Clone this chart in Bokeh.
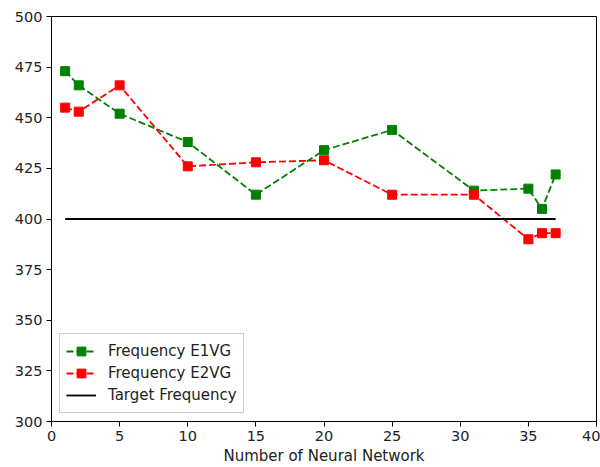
from bokeh.plotting import figure
from bokeh.models import Range1d, Legend, LegendItem, FixedTicker
from bokeh.embed import file_html
from bokeh.resources import INLINE

networks = [1, 2, 5, 10, 15, 20, 25, 31, 35, 36, 37]
freq_e1vg = [473, 466, 452, 438, 412, 434, 444, 414, 415, 405, 422]
freq_e2vg = [455, 453, 466, 426, 428, 429, 412, 412, 390, 393, 393]
target_x = [1, 37]
target_y = [400, 400]
x_ticks = [0, 5, 10, 15, 20, 25, 30, 35, 40]
y_ticks = [300, 325, 350, 375, 400, 425, 450, 475, 500]

p = figure(output_backend="svg", toolbar_location=None,
           frame_width=545, frame_height=405,
           min_border_left=51, min_border_right=4, min_border_top=16, min_border_bottom=46,
           x_range=Range1d(0, 40), y_range=Range1d(300, 500))
p.xgrid.visible = False
p.ygrid.visible = False
p.outline_line_color = "black"
p.outline_line_width = 1
p.outline_line_alpha = 1

for ax in (p.xaxis[0], p.yaxis[0]):
    ax.major_label_text_font = "DejaVu Sans"
    ax.major_label_text_font_size = "14.5px"
    ax.major_label_text_color = "#222222"
    ax.major_tick_out = 5
    ax.major_tick_in = 0
    ax.minor_tick_out = 0
    ax.minor_tick_in = 0
    ax.axis_line_color = "black"
    ax.major_tick_line_color = "black"
    ax.major_label_standoff = 4
p.xaxis.ticker = FixedTicker(ticks=x_ticks)
p.yaxis.ticker = FixedTicker(ticks=y_ticks)
p.xaxis.axis_label = "Number of Neural Network"
p.xaxis.axis_label_text_font = "DejaVu Sans"
p.xaxis.axis_label_text_font_size = "15px"
p.xaxis.axis_label_text_color = "#222222"
p.xaxis.axis_label_text_font_style = "normal"
p.xaxis.axis_label_standoff = 3

g_line = p.line(networks, freq_e1vg, color="green", line_width=1.8, line_dash="7 3")
g_pts = p.scatter(networks, freq_e1vg, marker="square", size=9, color="green")
r_line = p.line(networks, freq_e2vg, color="red", line_width=1.8, line_dash="7 3")
r_pts = p.scatter(networks, freq_e2vg, marker="square", size=9, color="red")
t_line = p.line(target_x, target_y, color="black", line_width=1.8)

legend = Legend(items=[
    LegendItem(label="Frequency E1VG", renderers=[g_line, g_pts]),
    LegendItem(label="Frequency E2VG", renderers=[r_line, r_pts]),
    LegendItem(label="Target Frequency", renderers=[t_line]),
], location="bottom_left")
legend.label_text_font = "DejaVu Sans"
legend.label_text_font_size = "15px"
legend.label_text_color = "#222222"
legend.glyph_width = 30
legend.glyph_height = 22
legend.label_height = 22
legend.label_standoff = 12
legend.spacing = 0
legend.padding = 6
legend.margin = 8
legend.border_line_color = "#cccccc"
legend.border_line_alpha = 1
legend.background_fill_alpha = 0.8
p.add_layout(legend)

open("out.html", "w").write(file_html(p, INLINE))
